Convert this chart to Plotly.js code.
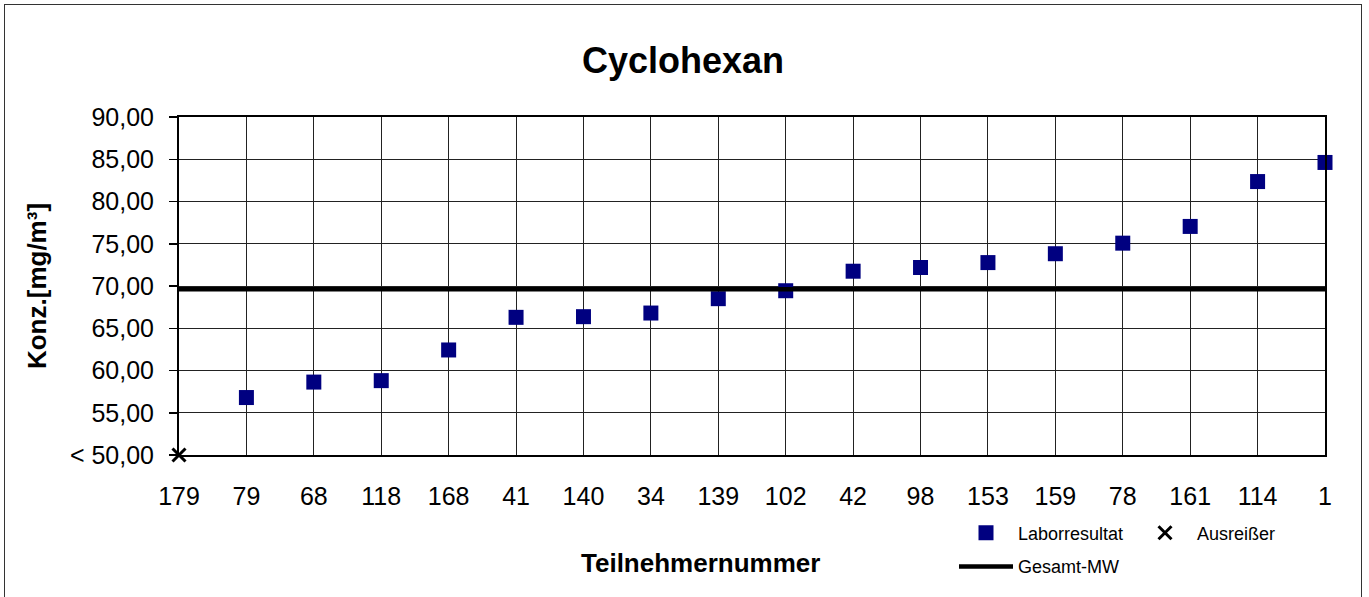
<!DOCTYPE html>
<html>
<head>
<meta charset="utf-8">
<script src="https://cdn.plot.ly/plotly-3.0.1.min.js"></script>
<style>
  html, body { margin: 0; padding: 0; background: #fff; }
  #wrap { position: relative; width: 1369px; height: 597px; overflow: hidden; }
  #chart { width: 1369px; height: 597px; }
  #frame { position: absolute; left: 4px; top: 4px; width: 1356px; height: 610px;
           border: 1.5px solid #333; pointer-events: none; }
</style>
</head>
<body>
<div id="wrap">
  <div id="chart"></div>
  <div id="frame"></div>
</div>
<script>
// Participant numbers (x categories, in plotted order)
const participants = ['179','79','68','118','168','41','140','34','139','102','42','98','153','159','78','161','114','1'];
// Lab results (participants 79 ... 1)
const labParticipants = ['79','68','118','168','41','140','34','139','102','42','98','153','159','78','161','114','1'];
const labResults = [56.80, 58.63, 58.80, 62.43, 66.29, 66.37, 66.80, 68.50, 69.44, 71.75, 72.19, 72.77, 73.82, 75.07, 77.05, 82.36, 84.62];
// Outlier (reported below 50,00)
const outlierParticipants = ['179'];
const outlierValues = [50.00];
// Overall mean
const overallMean = [69.61];
// Y tick values and labels
const yTickVals = [50, 55, 60, 65, 70, 75, 80, 85, 90];
const yTickText = ['< 50,00', '55,00', '60,00', '65,00', '70,00', '75,00', '80,00', '85,00', '90,00'];

const idx = p => participants.indexOf(p);

const font = 'Arial, "Liberation Sans", sans-serif';

const traces = [
  {
    x: labParticipants.map(idx),
    y: labResults,
    type: 'scatter', mode: 'markers', name: 'Laborresultat',
    marker: { symbol: 'square', size: 15, color: '#000080', line: { width: 0 } },
    cliponaxis: false,
    legend: 'legend'
  },
  {
    x: outlierParticipants.map(idx),
    y: outlierValues,
    type: 'scatter', mode: 'markers', name: 'Ausreißer',
    marker: { symbol: 'x-thin-open', size: 13, color: '#000', line: { width: 3, color: '#000' } },
    cliponaxis: false,
    legend: 'legend2'
  },
  {
    x: [0, participants.length - 1],
    y: [overallMean[0], overallMean[0]],
    type: 'scatter', mode: 'lines', name: 'Gesamt-MW',
    line: { color: '#000', width: 4.5 },
    cliponaxis: false,
    legend: 'legend3'
  }
];

const legendCommon = {
  font: { family: font, size: 18, color: '#000' },
  bgcolor: 'rgba(0,0,0,0)', borderwidth: 0,
  itemwidth: 54, xanchor: 'left', yanchor: 'middle', orientation: 'h'
};

const layout = {
  width: 1369, height: 597,
  margin: { l: 179, r: 44, t: 117, b: 138 },
  paper_bgcolor: '#fff', plot_bgcolor: '#fff',
  font: { family: font, color: '#000' },
  title: {
    text: '<b>Cyclohexan</b>',
    font: { family: font, size: 36, color: '#000' },
    x: 683 / 1369, xref: 'container', xanchor: 'center',
    y: 1 - 60 / 597, yref: 'container', yanchor: 'middle'
  },
  xaxis: {
    range: [0, participants.length - 1],
    tickmode: 'array',
    tickvals: participants.map((p, i) => i),
    ticktext: participants,
    showgrid: true, gridcolor: '#222', gridwidth: 1,
    showline: true, linecolor: '#000', linewidth: 2, mirror: true,
    ticks: '', ticklabelstandoff: 18,
    tickfont: { family: font, size: 25, color: '#000' },
    zeroline: false
  },
  yaxis: {
    range: [50, 90],
    tickmode: 'array', tickvals: yTickVals, ticktext: yTickText,
    showgrid: true, gridcolor: '#222', gridwidth: 1,
    showline: true, linecolor: '#000', linewidth: 2, mirror: true,
    ticks: 'outside', ticklen: 8, tickwidth: 1.5, tickcolor: '#000',
    ticklabelstandoff: 10,
    tickfont: { family: font, size: 25, color: '#000' },
    zeroline: false,
    title: { text: '<b>Konz.[mg/m³]</b>', font: { family: font, size: 26, color: '#000' }, standoff: 16 }
  },
  annotations: [
    {
      text: '<b>Teilnehmernummer</b>',
      xref: 'paper', yref: 'paper',
      x: (700 - 179) / 1146, y: (459 - 568) / 342,
      xanchor: 'center', yanchor: 'middle', showarrow: false,
      font: { family: font, size: 26, color: '#000' }
    }
  ],
  showlegend: true,
  legend: Object.assign({}, legendCommon, { x: (954 - 179) / 1146, y: (459 - 538) / 342 }),
  legend2: Object.assign({}, legendCommon, { x: (1133 - 179) / 1146, y: (459 - 538) / 342 }),
  legend3: Object.assign({}, legendCommon, { x: (954 - 179) / 1146, y: (459 - 572) / 342 })
};

Plotly.newPlot('chart', traces, layout, { displayModeBar: false, staticPlot: true });
</script>
</body>
</html>
